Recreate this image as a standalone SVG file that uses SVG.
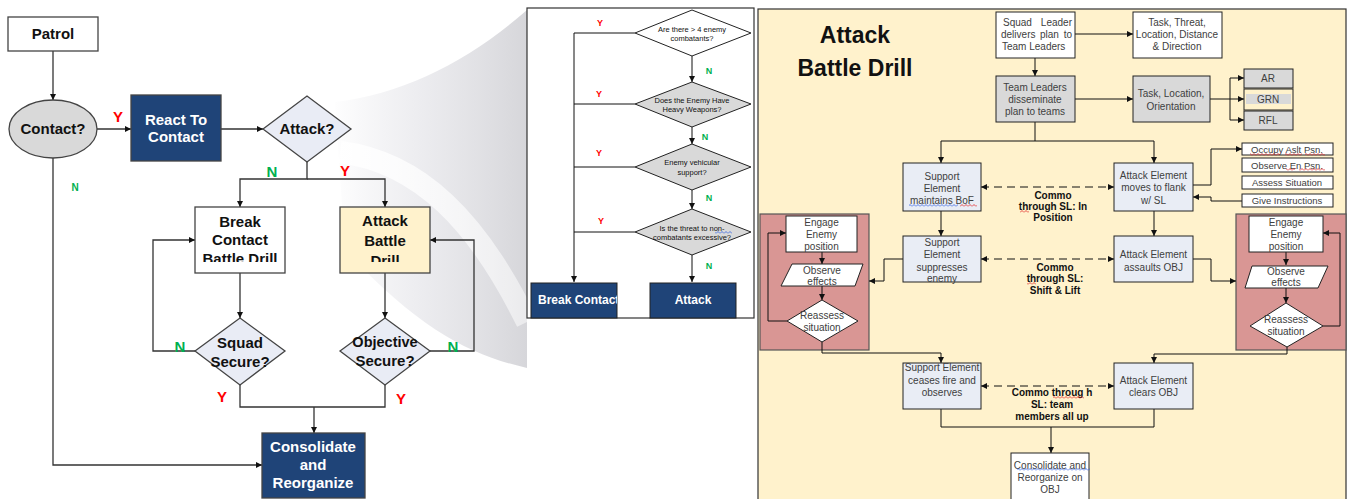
<svg xmlns="http://www.w3.org/2000/svg" width="1347" height="499" viewBox="0 0 1347 499">
<style>
text{font-family:"Liberation Sans",Arial,sans-serif}
.lb{font-weight:bold;font-size:15px;text-anchor:middle;fill:#111}
.wb{font-weight:bold;font-size:15px;text-anchor:middle;fill:#fff}
.mt{font-size:7.5px;text-anchor:middle;fill:#111}
.rt{font-size:10px;text-anchor:middle;fill:#404040}
.lt{font-size:9.5px;text-anchor:middle;fill:#404040}
.cm{font-weight:bold;font-size:10px;text-anchor:middle;fill:#111}
.yl{font-weight:bold;font-size:15px;text-anchor:middle;fill:#f00}
.nl{font-weight:bold;font-size:15px;text-anchor:middle;fill:#00b050}
.ys{font-weight:bold;font-size:9px;text-anchor:middle;fill:#f00}
.ns{font-weight:bold;font-size:9px;text-anchor:middle;fill:#00b050}
.ttl{font-weight:bold;font-size:23px;text-anchor:middle;fill:#111}
.box{stroke:#444;stroke-width:1.3}
.bx{stroke:#222;stroke-width:1}
.ln{fill:none;stroke:#333;stroke-width:1.3}
.rl{fill:none;stroke:#111;stroke-width:1}
.da{fill:none;stroke:#111;stroke-width:1.2;stroke-dasharray:8,5}
.blue{fill:#1f4478}
.gry{fill:#d9d9d9}
.lbl{fill:#e9edf5}
.crm{fill:#fff2cc}
.rose{fill:#d99694}
.wht{fill:#fff}
</style>
<defs>
<marker id="ah" viewBox="0 0 8 8" refX="8" refY="4" markerWidth="6" markerHeight="6" orient="auto-start-reverse" markerUnits="userSpaceOnUse"><path d="M0,0 L8,4 L0,8 z" fill="#111"/></marker>
<linearGradient id="fan" x1="330" y1="0" x2="527" y2="0" gradientUnits="userSpaceOnUse"><stop offset="0" stop-color="#e6e6ea" stop-opacity="0"/><stop offset="0.45" stop-color="#e8e8ec" stop-opacity="0.8"/><stop offset="1" stop-color="#d6d6da"/></linearGradient>
<linearGradient id="band" x1="340" y1="0" x2="527" y2="0" gradientUnits="userSpaceOnUse"><stop offset="0" stop-color="#fff" stop-opacity="0.9"/><stop offset="1" stop-color="#fff" stop-opacity="0.5"/></linearGradient>
<clipPath id="cb"><rect x="195" y="207" width="90" height="55"/></clipPath>
<clipPath id="ca"><rect x="340" y="207" width="90" height="55"/></clipPath>
<clipPath id="cbc"><rect x="531" y="283" width="86" height="35"/></clipPath>
<pattern id="sqR" width="4" height="3" patternUnits="userSpaceOnUse"><path d="M0,2.5 L2,0.5 L4,2.5" fill="none" stroke="#e02020" stroke-width="0.8"/></pattern>
<pattern id="sqB" width="4" height="3" patternUnits="userSpaceOnUse"><path d="M0,2.5 L2,0.5 L4,2.5" fill="none" stroke="#3060e0" stroke-width="0.8"/></pattern>
</defs>
<rect width="1347" height="499" fill="#fff"/>
<g id="fan-bg">
<path d="M335,102 C405,94 470,60 527,10 L527,368 C470,355 420,330 345,250 Z" fill="url(#fan)"/>
<path d="M340,152 C420,162 478,222 527,322" fill="none" stroke="url(#band)" stroke-width="22"/>
</g>

<g id="middle-panel">
<rect x="527" y="8" width="227" height="310" fill="#fff" stroke="#333" stroke-width="1.2"/>
</g>
<g id="right-panel">
<rect x="758" y="9" width="588" height="500" class="crm" stroke="#333" stroke-width="1.2"/>
<text class="ttl" x="855" y="43">Attack</text>
<text class="ttl" x="855" y="76">Battle Drill</text>
</g>
<g id="left-loop-frame"><rect class="rose" x="760" y="214" width="109" height="136" stroke="#555" stroke-width="1.2"/></g>
<g id="right-loop-frame"><rect class="rose" x="1236" y="214" width="110" height="136" stroke="#555" stroke-width="1.2"/></g>

<g id="connectors">
<path class="ln" d="M53,51 V100" marker-end="url(#ah)"/>
<path class="ln" d="M97,129 H131" marker-end="url(#ah)"/>
<path class="ln" d="M221,129 H263" marker-end="url(#ah)"/>
<path class="ln" d="M307,162 V179 H240 V207" marker-end="url(#ah)"/>
<path class="ln" d="M307,179 H385 V207" marker-end="url(#ah)"/>
<path class="ln" d="M240,273 V318" marker-end="url(#ah)"/>
<path class="ln" d="M195,351 H153 V240 H195" marker-end="url(#ah)"/>
<path class="ln" d="M385,273 V318" marker-end="url(#ah)"/>
<path class="ln" d="M428,351 H474 V240 H430" marker-end="url(#ah)"/>
<path class="ln" d="M240,385 V407 H385 V385"/>
<path class="ln" d="M314,407 V433" marker-end="url(#ah)"/>
<path class="ln" d="M53,158 V465 H262" marker-end="url(#ah)"/>
<path class="rl" d="M692,56 V82" marker-end="url(#ah)"/>
<path class="rl" d="M692,127 V144" marker-end="url(#ah)"/>
<path class="rl" d="M692,190 V209" marker-end="url(#ah)"/>
<path class="rl" d="M692,255 V282" marker-end="url(#ah)"/>
<path class="rl" d="M635,33 H574 V282" marker-end="url(#ah)"/>
<path class="rl" d="M635,104 H574 M635,167 H574 M635,232 H574"/>
<path class="rl" d="M1075,34 H1133" marker-end="url(#ah)"/>
<path class="rl" d="M1035,58 V76" marker-end="url(#ah)"/>
<path class="rl" d="M1075,99 H1133" marker-end="url(#ah)"/>
<path class="rl" d="M1210,99 H1244" marker-end="url(#ah)"/>
<path class="rl" d="M1230,78 V120"/>
<path class="rl" d="M1230,78 H1244" marker-end="url(#ah)"/>
<path class="rl" d="M1230,120 H1244" marker-end="url(#ah)"/>
<path class="rl" d="M1035,122 V141 M941,141 H1154"/>
<path class="rl" d="M941,141 V163" marker-end="url(#ah)"/>
<path class="rl" d="M1154,141 V163" marker-end="url(#ah)"/>
<path class="da" d="M981,187 H1114" marker-start="url(#ah)" marker-end="url(#ah)"/>
<path class="rl" d="M1193,185 H1211 V149 H1242" marker-end="url(#ah)"/>
<path class="rl" d="M1242,201 H1211 V197 H1193" marker-end="url(#ah)"/>
<path class="rl" d="M1154,211 V236" marker-end="url(#ah)"/>
<path class="rl" d="M941,211 V236" marker-end="url(#ah)"/>
<path class="da" d="M981,259 H1114" marker-start="url(#ah)" marker-end="url(#ah)"/>
<path class="rl" d="M903,259 H884 V281 H869" marker-end="url(#ah)"/>
<path class="rl" d="M1193,259 H1211 V281 H1236" marker-end="url(#ah)"/>
<path class="rl" d="M822,252 V264" marker-end="url(#ah)"/>
<path class="rl" d="M822,286 V300" marker-end="url(#ah)"/>
<path class="rl" d="M787,321 H768 V233 H786" marker-end="url(#ah)"/>
<path class="rl" d="M1286,252 V265" marker-end="url(#ah)"/>
<path class="rl" d="M1286,288 V303" marker-end="url(#ah)"/>
<path class="rl" d="M1323,326 H1340 V233 H1323" marker-end="url(#ah)"/>
<path class="rl" d="M822,342 V353 H941 V363" marker-end="url(#ah)"/>
<path class="rl" d="M1287,347 V354 H1154 V363" marker-end="url(#ah)"/>
<path class="da" d="M981,386 H1114" marker-start="url(#ah)" marker-end="url(#ah)"/>
<path class="rl" d="M941,409 V427 H1154 V409"/>
<path class="rl" d="M1051,427 V453" marker-end="url(#ah)"/>
</g>

<g id="connector-labels">
<text class="yl" x="118" y="122">Y</text>
<text class="nl" x="272" y="177">N</text>
<text class="yl" x="345" y="176">Y</text>
<text class="nl" x="75" y="191" style="font-size:10px">N</text>
<text class="nl" x="180" y="352">N</text>
<text class="nl" x="453" y="352">N</text>
<text class="yl" x="222" y="402">Y</text>
<text class="yl" x="401" y="404">Y</text>
<text class="ys" x="600" y="26">Y</text>
<text class="ns" x="709" y="74">N</text>
<text class="ys" x="599" y="97">Y</text>
<text class="ns" x="705" y="140">N</text>
<text class="ys" x="599" y="156">Y</text>
<text class="ns" x="709" y="201">N</text>
<text class="ys" x="601" y="224">Y</text>
<text class="ns" x="709" y="269">N</text>
</g>

<g id="patrol"><rect class="box wht" x="8" y="17" width="90" height="34"/><text class="lb" x="53" y="39">Patrol</text></g>
<g id="contact"><ellipse class="box gry" cx="53" cy="129" rx="44" ry="29"/><text class="lb" x="53" y="134">Contact?</text></g>
<g id="react"><rect class="box blue" x="131" y="95" width="90" height="66"/><text class="wb" x="176" y="125">React To</text><text class="wb" x="176" y="142">Contact</text></g>
<g id="attack-q"><polygon class="box" fill="#e9ecf5" points="263,129 307,96 351,129 307,162"/><text class="lb" x="307" y="134">Attack?</text></g>
<g id="break-drill"><rect class="box wht" x="195" y="207" width="90" height="66"/><g clip-path="url(#cb)"><text class="lb" x="240" y="227">Break</text><text class="lb" x="240" y="245">Contact</text><text class="lb" x="240" y="264">Battle Drill</text></g></g>
<g id="attack-drill"><rect class="box crm" x="340" y="207" width="90" height="66"/><g clip-path="url(#ca)"><text class="lb" x="385" y="226">Attack</text><text class="lb" x="385" y="246">Battle</text><text class="lb" x="385" y="266">Drill</text></g></g>
<g id="squad-secure"><polygon class="box" fill="#e9ecf5" points="195,351 240,318 285,351 240,385"/><text class="lb" x="240" y="348">Squad</text><text class="lb" x="240" y="367">Secure?</text></g>
<g id="objective-secure"><polygon class="box" fill="#e9ecf5" points="340,351 385,318 430,351 385,385"/><text class="lb" x="385" y="347" style="font-size:14.5px">Objective</text><text class="lb" x="385" y="366">Secure?</text></g>
<g id="consolidate"><rect class="box blue" x="262" y="433" width="103" height="65"/><text class="wb" x="313" y="452">Consolidate</text><text class="wb" x="313" y="470">and</text><text class="wb" x="313" y="488">Reorganize</text></g>

<g id="q-four"><polygon class="bx wht" points="635,33 692,10 751,33 692,56"/><text class="mt" x="692" y="31.5">Are there &gt; 4 enemy</text><text class="mt" x="692" y="40.5">combatants?</text></g>
<g id="q-heavy"><polygon class="bx gry" points="635,104 692,82 751,104 692,127"/><text class="mt" x="692" y="102.5">Does the Enemy Have</text><text class="mt" x="692" y="111.5">Heavy Weapons?</text></g>
<g id="q-vehicle"><polygon class="bx gry" points="635,167 692,144 751,167 692,190"/><text class="mt" x="692" y="164.5">Enemy vehicular</text><text class="mt" x="692" y="174.5">support?</text></g>
<g id="q-threat"><polygon class="bx gry" points="635,232 692,209 751,232 692,255"/><text class="mt" x="692" y="230.5">Is the threat to non-</text><text class="mt" x="692" y="239.5">combatants excessive?</text><rect x="715" y="231" width="17" height="3" fill="url(#sqB)"/></g>
<g id="mid-break"><rect class="bx blue" x="531" y="283" width="86" height="35"/><g clip-path="url(#cbc)"><text x="538" y="304" style="font-weight:bold;font-size:12px;fill:#fff">Break Contact</text></g></g>
<g id="mid-attack"><rect class="bx blue" x="650" y="283" width="86" height="35"/><text x="693" y="304" style="font-weight:bold;font-size:12px;fill:#fff;text-anchor:middle">Attack</text></g>

<g id="sl-plan"><rect class="bx wht" x="996" y="12" width="79" height="46"/><text class="rt" x="1003" y="26" style="text-anchor:start">Squad</text><text class="rt" x="1072" y="26" style="text-anchor:end">Leader</text><text class="rt" x="1001" y="38" style="text-anchor:start">delivers</text><text class="rt" x="1040" y="38" style="text-anchor:start">plan</text><text class="rt" x="1072" y="38" style="text-anchor:end">to</text><text class="rt" x="1002" y="50" style="text-anchor:start">Team Leaders</text></g>
<g id="task-threat"><rect class="bx wht" x="1133" y="12" width="89" height="46"/><text class="rt" x="1177" y="26">Task, Threat,</text><text class="rt" x="1177" y="38">Location, Distance</text><text class="rt" x="1177" y="50">&amp; Direction</text></g>
<g id="tl-dissem"><rect class="bx gry" x="996" y="76" width="79" height="46"/><text class="rt" x="1035" y="90.5">Team Leaders</text><text class="rt" x="1035" y="102.5">disseminate</text><text class="rt" x="1035" y="114.5">plan to teams</text></g>
<g id="task-loc"><rect class="bx gry" x="1133" y="76" width="77" height="46"/><text class="rt" x="1171" y="96.5">Task, Location,</text><text class="rt" x="1171" y="109.5">Orientation</text></g>
<g id="ar"><rect class="bx gry" x="1244" y="69" width="49" height="19" stroke-width="1.5"/><text class="rt" x="1268" y="82">AR</text></g>
<g id="grn"><rect class="bx crm" x="1244" y="89" width="49" height="21" stroke-width="1.5"/><rect x="1246" y="94" width="45" height="10" fill="#d9d9d9"/><text class="rt" x="1268" y="102.5">GRN</text></g>
<g id="rfl"><rect class="bx gry" x="1244" y="111" width="49" height="19" stroke-width="1.5"/><text class="rt" x="1268" y="124">RFL</text></g>
<g id="support-bof"><rect class="bx lbl" x="903" y="163" width="78" height="48"/><text class="rt" x="942" y="179.5">Support</text><text class="rt" x="942" y="191.5">Element</text><text class="rt" x="942" y="203.5">maintains  BoF</text><rect x="909" y="204" width="49" height="3" fill="url(#sqB)"/><rect x="960" y="204" width="17" height="3" fill="url(#sqR)"/></g>
<g id="attack-flank"><rect class="bx lbl" x="1114" y="163" width="79" height="48"/><text class="rt" x="1153.5" y="178.5">Attack Element</text><text class="rt" x="1153.5" y="190.5">moves to flank</text><text class="rt" x="1153.5" y="203.5">w/ SL</text></g>
<g id="commo-1"><text class="cm" x="1053" y="198.5">Commo</text><text class="cm" x="1053" y="209.5">through  SL: In</text><text class="cm" x="1053" y="220.5">Position</text><rect x="1020" y="210" width="9" height="3" fill="url(#sqR)"/></g>
<g id="occupy"><rect class="bx wht" x="1242" y="143" width="91" height="12"/><text class="lt" x="1287" y="152.5">Occupy Aslt Psn.</text><rect x="1250" y="153" width="30" height="3" fill="url(#sqR)"/><rect x="1285" y="153" width="17" height="3" fill="url(#sqR)"/><rect x="1305" y="153" width="20" height="3" fill="url(#sqR)"/></g>
<g id="observe-psn"><rect class="bx wht" x="1242" y="158" width="91" height="14"/><text class="lt" x="1287" y="168.5">Observe En Psn.</text><rect x="1286" y="168" width="9" height="3" fill="url(#sqR)"/><rect x="1299" y="168" width="26" height="3" fill="url(#sqR)"/></g>
<g id="assess"><rect class="bx wht" x="1242" y="176" width="91" height="13"/><text class="lt" x="1287" y="186">Assess Situation</text></g>
<g id="give"><rect class="bx wht" x="1242" y="194" width="91" height="13"/><text class="lt" x="1287" y="204">Give Instructions</text></g>
<g id="support-suppress"><rect class="bx lbl" x="903" y="236" width="78" height="46"/><text class="rt" x="942" y="245.5">Support</text><text class="rt" x="942" y="258">Element</text><text class="rt" x="942" y="270.5">suppresses</text><text class="rt" x="942" y="282">enemy</text></g>
<g id="attack-assault"><rect class="bx lbl" x="1114" y="236" width="79" height="46"/><text class="rt" x="1153.5" y="257.5">Attack Element</text><text class="rt" x="1153.5" y="270.5">assaults  OBJ</text></g>
<g id="commo-2"><text class="cm" x="1055" y="270.5">Commo</text><text class="cm" x="1055" y="281.5">through  SL:</text><text class="cm" x="1055" y="293.5">Shift &amp; Lift</text><rect x="1027" y="282" width="9" height="3" fill="url(#sqR)"/></g>
<g id="engage-left"><rect class="bx wht" x="786" y="216" width="71" height="36"/><text class="rt" x="821.5" y="225.5">Engage</text><text class="rt" x="821.5" y="237.5">Enemy</text><text class="rt" x="821.5" y="249.5">position</text></g>
<g id="observe-left"><polygon class="bx wht" points="792,264 863,264 855,286 781,286"/><text class="rt" x="822" y="273.5">Observe</text><text class="rt" x="822" y="284.5">effects</text></g>
<g id="reassess-left"><polygon class="bx wht" points="822,300 858,321 822,342 787,321"/><text class="rt" x="822" y="318.5">Reassess</text><text class="rt" x="822" y="330.5">situation</text></g>
<g id="engage-right"><rect class="bx wht" x="1249" y="216" width="74" height="36"/><text class="rt" x="1286" y="226">Engage</text><text class="rt" x="1286" y="238">Enemy</text><text class="rt" x="1286" y="249.5">position</text></g>
<g id="observe-right"><polygon class="bx wht" points="1252,266 1328,266 1318,288 1245,288"/><text class="rt" x="1286" y="274.5">Observe</text><text class="rt" x="1286" y="286">effects</text></g>
<g id="reassess-right"><polygon class="bx wht" points="1286,303 1323,326 1287,347 1250,326"/><text class="rt" x="1286" y="322.5">Reassess</text><text class="rt" x="1286" y="334.5">situation</text></g>
<g id="support-cease"><rect class="bx lbl" x="903" y="363" width="78" height="46"/><text class="rt" x="942" y="371">Support Element</text><text class="rt" x="942" y="383.5">ceases fire and</text><text class="rt" x="942" y="395.5">observes</text></g>
<g id="attack-clear"><rect class="bx lbl" x="1114" y="363" width="79" height="46"/><text class="rt" x="1153.5" y="383.5">Attack  Element</text><text class="rt" x="1153.5" y="395.5">clears OBJ</text></g>
<g id="commo-3"><text class="cm" x="1052" y="395.5">Commo throug h</text><text class="cm" x="1052" y="407.5">SL: team</text><text class="cm" x="1052" y="419.5">members all up</text><rect x="1053" y="396" width="31" height="3" fill="url(#sqR)"/></g>
<g id="consolidate-obj"><rect class="bx wht" x="1011" y="453" width="78" height="60"/><text class="rt" x="1050" y="468.5">Consolidate  and</text><text class="rt" x="1050" y="480.5">Reorganize  on</text><text class="rt" x="1050" y="492.5">OBJ</text><rect x="1017" y="468" width="73" height="3" fill="url(#sqB)"/></g>
</svg>
